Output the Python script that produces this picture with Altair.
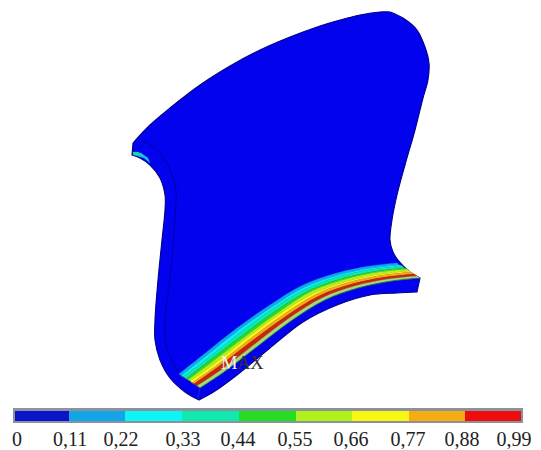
import altair as alt
import pandas as pd

W_X = [8, 533]
W_Y = [449, 8]

# Colour scale
bar_edges = [15, 69, 125, 182, 239, 296, 352, 409, 465, 521]
bar_colors = ["#0a14c8", "#12a5e8", "#0df5f5", "#10e8b0", "#22dd22", "#b2f01a", "#f8f812", "#f5ad14", "#ee0c0c"]
tick_labels = ["0", "0,11", "0,22", "0,33", "0,44", "0,55", "0,66", "0,77", "0,88", "0,99"]
tick_x = [17, 70, 121, 183, 238, 295, 351, 408, 462, 514]

# Body outline, one list per smooth stretch
seg_top = [(133, 143), (150, 125), (170, 108), (200, 85), (230, 66), (260, 50), (290, 37), (320, 26), (340, 20), (360, 15), (380, 12), (390, 12)]
seg_right = [(390, 12), (403, 18), (417, 30), (425, 47), (429, 63), (428, 80), (423, 98), (415, 130), (405, 165), (397, 195), (392, 220), (390, 240), (393, 252), (398, 260), (410, 272), (420, 278)]
seg_end = [(420, 278), (417, 292)]
seg_low = [(417, 292), (397, 293), (370, 295), (337, 305), (303, 322), (270, 348), (237, 375), (215, 391), (199, 400)]
seg_left = [(199, 400), (185, 392), (170, 378), (160, 360), (155, 340), (155, 320), (158, 280), (162, 240), (165, 210), (165, 195), (160, 178), (150, 165), (140, 158), (132, 155)]
seg_tip = [(132, 155), (133, 143)]

inner_line = [(140, 140), (155, 148), (168, 165), (176, 190), (175, 215), (171, 270), (165, 320), (166, 345), (178, 372)]

# Contour boundaries on the curved face
b_x = [
    [179, 203, 237, 270, 303, 337, 370, 397],
    [181, 205, 239, 272, 305, 339, 372, 399],
    [183, 207, 241, 274, 308, 341, 375, 402],
    [186, 210, 244, 277, 310, 344, 377, 404],
    [188, 212, 246, 279, 312, 346, 379, 407],
    [190, 214, 248, 281, 314, 348, 381, 409],
    [192, 216, 250, 283, 317, 350, 384, 411],
    [194, 218, 252, 285, 319, 352, 386, 414],
    [197, 221, 255, 288, 322, 355, 389, 417],
    [200, 224, 258, 291, 325, 358, 392, 420],
]
b_y = [
    [374, 355, 328, 305, 285, 273, 266, 263],
    [376, 357, 330, 307, 287, 275, 268, 265],
    [377, 359, 332, 308, 288, 276, 269, 266],
    [379, 360, 334, 310, 290, 278, 271, 268],
    [380, 362, 336, 312, 291, 279, 272, 269],
    [381, 364, 337, 313, 293, 281, 274, 271],
    [383, 366, 339, 315, 294, 282, 275, 272],
    [384, 367, 341, 317, 296, 284, 277, 274],
    [386, 370, 344, 319, 298, 286, 279, 276],
    [388, 372, 346, 321, 300, 288, 281, 278],
]
band_colors = ["#12a5e8", "#0df0f0", "#10e8b0", "#22dd22", "#b2f01a", "#f8f812", "#f5ad14", "#c82808", "#a8d870"]

sliver_a = [(135, 152), (141, 153), (148, 158), (150, 163), (144, 158), (134, 155)]
sliver_b = [(133, 152), (138, 152), (140, 155), (133, 155)]

BLUE = "#0202ee"

X = alt.X("x:Q", scale=alt.Scale(domain=W_X, nice=False, zero=False), axis=None)
Y = alt.Y("y:Q", scale=alt.Scale(domain=W_Y, nice=False, zero=False), axis=None)


def shape(points, fill=None, stroke="#00008a", width=1.0, interp="catmull-rom"):
    df = pd.DataFrame(points, columns=["x", "y"])
    df["i"] = range(len(df))
    kw = dict(stroke=stroke, strokeWidth=width, interpolate=interp, clip=False)
    if fill is not None:
        kw["fill"] = fill
    return alt.Chart(df).mark_line(**kw).encode(x=X, y=Y, order=alt.Order("i:Q"))


def joined(*segs):
    pts = []
    for s in segs:
        pts += [s[0]] + list(s) + [s[-1]]
    return pts


layers = [shape(joined(seg_top, seg_right, seg_end, seg_low, seg_left, seg_tip), fill=BLUE, stroke="#00008a", width=1.1)]
layers.append(shape(inner_line, stroke="#0000a8", width=1.0))

for k, col in enumerate(band_colors):
    up = list(zip(b_x[k], b_y[k]))
    dn = list(zip(b_x[k + 1], b_y[k + 1]))[::-1]
    layers.append(shape(joined(up, dn), fill=col, stroke=col, width=0.3))

edge = list(zip(b_x[9], b_y[9]))
layers.append(shape(edge, stroke="#1a5a50", width=0.8))
layers.append(shape([(179, 374), (200, 388), (198, 399)], stroke="#30506a", width=0.6, interp="linear"))

layers.append(shape(sliver_a, fill="#10c8e8", stroke="#10c8e8", width=0.2, interp="linear"))
layers.append(shape(sliver_b, fill="#22d890", stroke="#22d890", width=0.2, interp="linear"))

# Legend bar
frame = pd.DataFrame({"x": [13], "x2": [523], "y": [408], "y2": [423]})
layers.append(alt.Chart(frame).mark_rect(color="#8c929c").encode(x=X, x2="x2:Q", y=Y, y2="y2:Q"))
bar = pd.DataFrame({"x": bar_edges[:-1], "x2": bar_edges[1:], "c": bar_colors, "y": [411] * 9, "y2": [421] * 9})
layers.append(alt.Chart(bar).mark_rect().encode(x=X, x2="x2:Q", y=Y, y2="y2:Q", color=alt.Color("c:N", scale=None)))

labels = pd.DataFrame({"x": tick_x, "y": [446] * 10, "t": tick_labels})
layers.append(alt.Chart(labels).mark_text(font="Liberation Serif", fontSize=20, color="#222222", baseline="alphabetic", align="center").encode(x=X, y=Y, text="t:N"))

m1 = pd.DataFrame({"x": [221], "y": [369], "t": ["M"]})
m2 = pd.DataFrame({"x": [237], "y": [369], "t": ["AX"]})
layers.append(alt.Chart(m1).mark_text(font="Liberation Serif", fontSize=18.5, color="#f4f4f4", baseline="alphabetic", align="left").encode(x=X, y=Y, text="t:N"))
layers.append(alt.Chart(m2).mark_text(font="Liberation Serif", fontSize=18.5, color="#333333", baseline="alphabetic", align="left").encode(x=X, y=Y, text="t:N"))

chart = alt.layer(*layers).properties(
    width=525, height=441, padding=0, autosize=alt.AutoSizeParams(type="none")
).configure_view(stroke=None)

chart.save("out.html", embed_options={"renderer": "svg", "actions": False})
